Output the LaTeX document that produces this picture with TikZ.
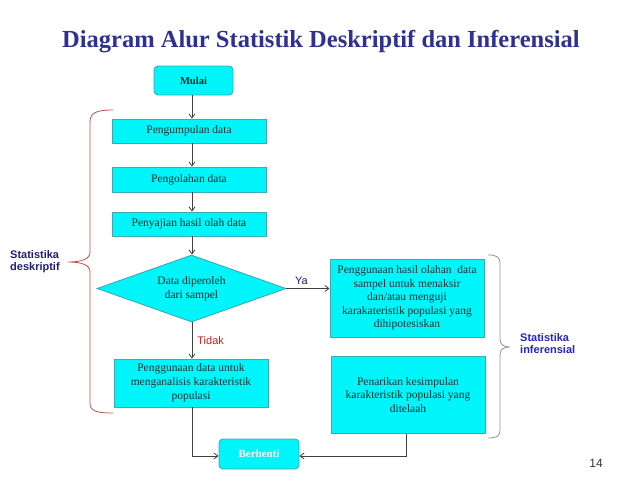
\documentclass[tikz,border=0pt]{standalone}
\usepackage{fontspec}
\setmainfont{Liberation Serif}
\newfontfamily\arialf{Liberation Sans}
\usetikzlibrary{shapes.geometric,arrows.meta}
\definecolor{titleblue}{HTML}{2E3192}
\definecolor{boxfill}{HTML}{00F5FA}
\definecolor{boxline}{HTML}{3FA9B5}
\definecolor{boxtext}{HTML}{102E2E}
\definecolor{conn}{HTML}{404040}
\definecolor{bracered}{HTML}{C0504D}
\definecolor{navylab}{HTML}{1F1F78}
\definecolor{bluelab}{HTML}{2424C8}
\definecolor{tidakred}{HTML}{C0201A}
\tikzset{
  procbox/.style={draw=boxline, line width=0.9pt, fill=boxfill, text=boxtext, inner sep=1pt,
     font=\fontsize{11.5}{13.8}\selectfont, align=center},
  termbox/.style={procbox, rounded corners=4pt, font=\bfseries\fontsize{10.5}{12}\selectfont},
  decision/.style={diamond, draw=boxline, line width=0.9pt, fill=boxfill, text=boxtext, inner sep=0pt,
     aspect=2.82, minimum width=189pt, minimum height=67pt, font=\fontsize{11.5}{13.8}\selectfont, align=center},
  arr/.style={draw=conn, line width=0.8pt, -{Straight Barb[length=4pt,width=6pt]}},
  lab/.style={font=\arialf\bfseries\fontsize{11}{12.5}\selectfont, align=left, inner sep=0pt},
  brace/.style={line width=0.8pt}
}
\begin{document}
\begin{tikzpicture}[x=1pt,y=-1pt]
\useasboundingbox (0,0) rectangle (638,479);
\node[font=\bfseries\fontsize{24.5}{28}\selectfont, text=titleblue, anchor=base west, inner sep=0pt] (title) at (62,47) {Diagram Alur Statistik Deskriptif dan Inferensial};

\coordinate (ax) at (192,0);
\node[termbox, minimum width=79pt, minimum height=29pt] (mulai) at (193.5,80.5) {Mulai};
\node[procbox, minimum width=154pt, minimum height=24pt] (kumpul) at (189,131) {Pengumpulan data};
\node[procbox, minimum width=154pt, minimum height=25pt] (olah) at (189,179.5) {Pengolahan data};
\node[procbox, minimum width=154pt, minimum height=24pt] (saji) at (189,224) {Penyajian hasil olah data};
\node[decision] (dec) at (191.5,288.5) {Data diperoleh\\dari sampel};
\node[procbox, minimum width=154pt, minimum height=48pt] (guna) at (191,383) {Penggunaan data untuk\\menganalisis karakteristik\\populasi};
\node[termbox, minimum width=80pt, minimum height=30pt, text=white, font=\bfseries\fontsize{11}{12}\selectfont] (stop) at (259,454) {Berhenti};
\node[procbox, minimum width=154pt, minimum height=78pt, font=\fontsize{11.5}{13.5}\selectfont] (hasil) at (407,298) {Penggunaan hasil olahan\ \ data\\sampel untuk menaksir\\dan/atau menguji\\karakateristik populasi yang\\dihipotesiskan};
\node[procbox, minimum width=154pt, minimum height=77pt] (tarik) at (408,395) {Penarikan kesimpulan\\karakteristik populasi yang\\ditelaah};

\draw[arr] (mulai.south -| ax) -- (kumpul.north -| ax);
\draw[arr] (kumpul.south -| ax) -- (olah.north -| ax);
\draw[arr] (olah.south -| ax) -- (saji.north -| ax);
\draw[arr] (saji.south -| ax) -- (dec.north -| ax);
\draw[arr] (dec.east) -- node[above, pos=0.35, font=\arialf\fontsize{11}{12}\selectfont, text=navylab, inner sep=3pt] (ya) {Ya} (dec.east -| hasil.west);
\draw[arr] (dec.south -| ax) -- node[right, pos=0.5, font=\arialf\fontsize{11}{12}\selectfont, text=tidakred, inner sep=5pt] (tidak) {Tidak} (guna.north -| ax);
\coordinate (lc) at (192,456);
\draw[arr] (guna.south -| ax) -- (lc) -- (lc -| stop.west);
\coordinate (rc) at (406,456);
\draw[arr] (tarik.south -| rc) -- (rc) -- (rc -| stop.east);

\draw[brace, draw=bracered] (113,110) .. controls (96,110) and (90,113) .. (90,122) -- (90,252)
   .. controls (90,259) and (82,262) .. (68,262)
   .. controls (82,262) and (90,265) .. (90,272) -- (90,403)
   .. controls (90,411) and (96,413) .. (113,413);
\draw[brace, draw=gray!85] (488,255) .. controls (497,255) and (500,257) .. (500,264) -- (500,339)
   .. controls (500,345) and (504,347) .. (510,347)
   .. controls (504,347) and (500,349) .. (500,355) -- (500,430)
   .. controls (500,436) and (497,438) .. (488,438);

\node[lab, text=navylab, anchor=north west] (desk) at (10,250) {Statistika\\deskriptif};
\node[lab, text=bluelab, anchor=north west] (infer) at (520,333) {Statistika\\inferensial};
\node[font=\arialf\fontsize{12}{14}\selectfont, text=black!80, anchor=base] (num) at (596,467) {14};
\end{tikzpicture}
\end{document}
